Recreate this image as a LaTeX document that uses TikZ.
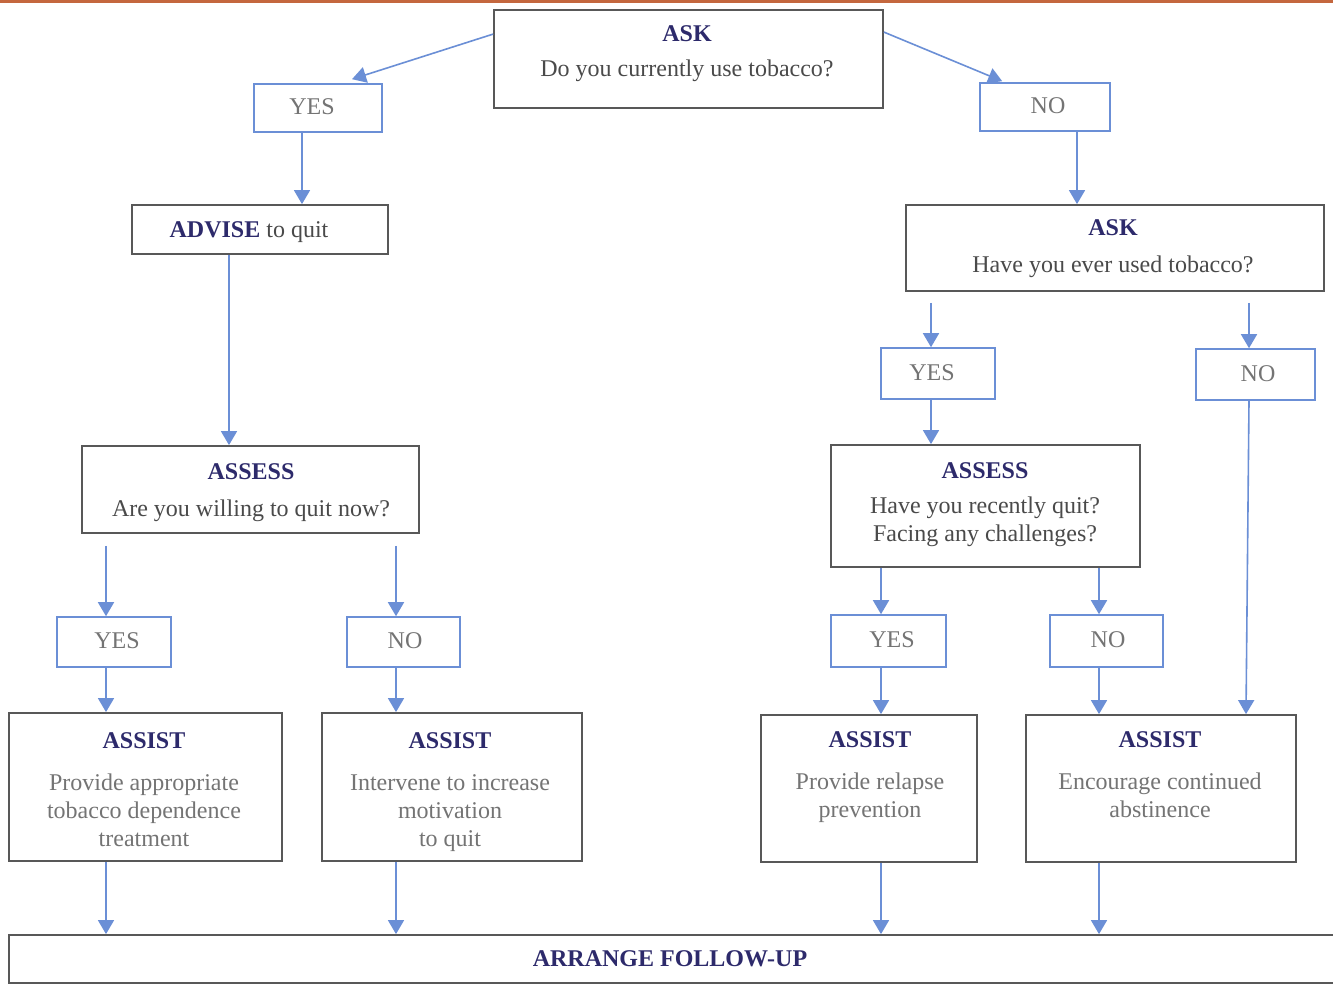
\documentclass[tikz,border=0pt]{standalone}
\usepackage{fontspec}
\setmainfont{Liberation Serif}
\usetikzlibrary{arrows.meta,fit,calc}
\definecolor{navy}{HTML}{2D2A6B}
\definecolor{qgray}{HTML}{4A4A4A}
\definecolor{lgray}{HTML}{747474}
\definecolor{boxgray}{HTML}{585858}
\definecolor{flowblue}{HTML}{6B8FD6}
\definecolor{topline}{HTML}{C4673E}
\newcommand\hdr[1]{{\color{navy}\bfseries #1}}
\begin{document}
\begin{tikzpicture}[x=0.5pt,y=-0.5pt,
  mainbox/.style={draw=boxgray,line width=0.9pt,inner sep=0pt},
  ynbox/.style={draw=flowblue,line width=0.8pt,inner sep=0pt},
  flow/.style={draw=flowblue,line width=0.8pt,-{Triangle[length=7pt,width=8pt]}},
  txt/.style={align=center,inner sep=0pt,font=\fontsize{12}{14}\selectfont,text=qgray},
  ltxt/.style={txt,text=lgray},
  yn/.style={txt,text=lgray}]
\useasboundingbox (0,0) rectangle (1333,985);
\fill[white] (0,0) rectangle (1333,985);
\draw[topline,line width=1.5pt] (0,1.5) -- (1333,1.5);

% boxes
\node[mainbox,fit={(494,10)(883,108)}] (ask1) {};
\node[ynbox,fit={(254,84)(382,132)}] (yes1) {};
\node[ynbox,fit={(980,83)(1110,131)}] (no1) {};
\node[mainbox,fit={(132,205)(388,254)}] (advise) {};
\node[mainbox,fit={(82,446)(419,533)}] (assess1) {};
\node[ynbox,fit={(57,617)(171,667)}] (yes2) {};
\node[ynbox,fit={(347,617)(460,667)}] (no2) {};
\node[mainbox,fit={(9,713)(282,861)}] (assist1) {};
\node[mainbox,fit={(322,713)(582,861)}] (assist2) {};
\node[mainbox,fit={(9,935)(1345,983)}] (followup) {};
\node[mainbox,fit={(906,205)(1324,291)}] (ask2) {};
\node[ynbox,fit={(881,348)(995,399)}] (yes3) {};
\node[ynbox,fit={(1196,349)(1315,400)}] (no3) {};
\node[mainbox,fit={(831,445)(1140,567)}] (assess2) {};
\node[ynbox,fit={(831,615)(946,667)}] (yes4) {};
\node[ynbox,fit={(1050,615)(1163,667)}] (no4) {};
\node[mainbox,fit={(761,715)(977,862)}] (assist3) {};
\node[mainbox,fit={(1026,715)(1296,862)}] (assist4) {};

% texts
\node[txt,anchor=north] (task1) at (687,25) {\hdr{ASK}\\[3.5pt]Do you currently use tobacco?};
\node[yn] (tyes1) at (312,107) {YES};
\node[yn] (tno1) at (1048,106) {NO};
\node[txt,anchor=base] (tadvise) at (249,237) {\hdr{ADVISE} to quit};
\node[txt,anchor=north] (tassess1) at (251,463) {\hdr{ASSESS}\\[4.5pt]Are you willing to quit now?};
\node[yn] (tyes2) at (117,641) {YES};
\node[yn] (tno2) at (405,641) {NO};
\node[ltxt,anchor=north] (tassist1) at (144,732) {\hdr{ASSIST}\\[7pt]Provide appropriate\\tobacco dependence\\treatment};
\node[ltxt,anchor=north] (tassist2) at (450,732) {\hdr{ASSIST}\\[7pt]Intervene to increase\\motivation\\to quit};
\node[txt,anchor=north] (task2) at (1113,219) {\hdr{ASK}\\[4.5pt]Have you ever used tobacco?};
\node[yn] (tyes3) at (932,373) {YES};
\node[yn] (tno3) at (1258,374) {NO};
\node[txt,anchor=north] (tassess2) at (985,462) {\hdr{ASSESS}\\[3.5pt]Have you recently quit?\\Facing any challenges?};
\node[yn] (tyes4) at (892,640) {YES};
\node[yn] (tno4) at (1108,640) {NO};
\node[ltxt,anchor=north] (tassist3) at (870,731) {\hdr{ASSIST}\\[7pt]Provide relapse\\prevention};
\node[ltxt,anchor=north] (tassist4) at (1160,731) {\hdr{ASSIST}\\[7pt]Encourage continued\\abstinence};
\node[txt,anchor=base] (tfollow) at (670,966) {\hdr{ARRANGE FOLLOW-UP}};

% column positions
\coordinate (cA) at (106,0);
\coordinate (cB) at (396,0);
\coordinate (cC) at (302,0);
\coordinate (cD) at (229,0);
\coordinate (cE) at (1077,0);
\coordinate (cF) at (931,0);
\coordinate (cG) at (1249,0);
\coordinate (cH) at (881,0);
\coordinate (cI) at (1099,0);

% connectors
\draw[flow] ($(ask1.north west)+(0,25)$) -- ($(yes1.north)+(34,-4)$);
\draw[flow] ($(ask1.north east)+(0,23)$) -- ($(no1.north west)+(23,-1)$);
\draw[flow] (yes1.south -| cC) -- (advise.north -| cC);
\draw[flow] (advise.south -| cD) -- (assess1.north -| cD);
\draw[flow,shorten <=6pt] (assess1.south -| cA) -- (yes2.north -| cA);
\draw[flow,shorten <=6pt] (assess1.south -| cB) -- (no2.north -| cB);
\draw[flow] (yes2.south -| cA) -- (assist1.north -| cA);
\draw[flow] (no2.south -| cB) -- (assist2.north -| cB);
\draw[flow] (assist1.south -| cA) -- (followup.north -| cA);
\draw[flow] (assist2.south -| cB) -- (followup.north -| cB);
\draw[flow] (no1.south -| cE) -- (ask2.north -| cE);
\draw[flow,shorten <=5.5pt] (ask2.south -| cF) -- (yes3.north -| cF);
\draw[flow,shorten <=5.5pt] (ask2.south -| cG) -- (no3.north -| cG);
\draw[flow] (yes3.south -| cF) -- (assess2.north -| cF);
\draw[flow] (assess2.south -| cH) -- (yes4.north -| cH);
\draw[flow] (assess2.south -| cI) -- (no4.north -| cI);
\draw[flow] (yes4.south -| cH) -- (assist3.north -| cH);
\draw[flow] (no4.south -| cI) -- (assist4.north -| cI);
\draw[flow] (no3.south -| cG) -- ($(assist4.north -| cG)+(-3,0)$);
\draw[flow] (assist3.south -| cH) -- (followup.north -| cH);
\draw[flow] (assist4.south -| cI) -- (followup.north -| cI);
\end{tikzpicture}
\end{document}
